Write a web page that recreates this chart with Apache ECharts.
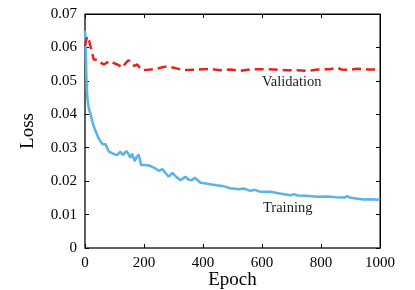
<!DOCTYPE html>
<html>
<head>
<meta charset="utf-8">
<script src="https://cdn.jsdelivr.net/npm/echarts@6/dist/echarts.min.js"></script>
<style>
  html, body { margin: 0; padding: 0; background: #fff; }
  #chart { width: 415px; height: 290px; }
</style>
</head>
<body>
<div id="chart"></div>
<script>
const trainEpochs = [0, 3, 5, 8, 12, 19, 27, 36, 45, 53, 60, 64, 70, 76, 81, 95, 109, 115, 120, 128, 134, 140, 147, 154, 160, 168, 175, 182, 190, 205, 222, 235, 250, 262, 272, 284, 296, 310, 324, 340, 352, 363, 372, 392, 410, 425, 445, 470, 493, 503, 520, 538, 561, 576, 595, 629, 660, 697, 708, 720, 750, 787, 820, 850, 880, 889, 900, 945, 970, 990, 1000];
const trainLoss = [0.065, 0.058, 0.050, 0.045, 0.042, 0.040, 0.037, 0.035, 0.033, 0.0318, 0.031, 0.0308, 0.031, 0.0298, 0.0288, 0.0282, 0.0278, 0.0282, 0.0288, 0.0278, 0.0283, 0.029, 0.0282, 0.027, 0.0282, 0.026, 0.0272, 0.028, 0.0248, 0.0248, 0.0245, 0.024, 0.0231, 0.0236, 0.0225, 0.0213, 0.0225, 0.0212, 0.0203, 0.0213, 0.0204, 0.0203, 0.021, 0.0195, 0.0193, 0.0191, 0.0188, 0.0185, 0.0178, 0.0178, 0.0176, 0.0178, 0.0171, 0.0174, 0.0168, 0.0168, 0.0163, 0.0158, 0.0161, 0.0157, 0.0156, 0.0153, 0.0154, 0.0152, 0.0151, 0.0155, 0.015, 0.0145, 0.0146, 0.0144, 0.0147];

const valEpochs = [0, 7, 14, 19, 25, 30, 41, 52, 64, 75, 86, 98, 109, 118, 126, 137, 148, 158, 168, 177, 185, 194, 210, 222, 240, 256, 279, 301, 320, 335, 360, 380, 400, 425, 440, 459, 493, 527, 560, 600, 640, 680, 720, 753, 790, 830, 855, 870, 900, 923, 960, 1000];
const valLoss = [0.0605, 0.0633, 0.062, 0.0619, 0.058, 0.0563, 0.0564, 0.0555, 0.0549, 0.0555, 0.056, 0.0553, 0.0549, 0.0545, 0.0539, 0.0552, 0.0562, 0.0548, 0.0545, 0.0549, 0.054, 0.0532, 0.0533, 0.0534, 0.0536, 0.0539, 0.0544, 0.0539, 0.0535, 0.0532, 0.0533, 0.0534, 0.0535, 0.0536, 0.0534, 0.0532, 0.0534, 0.053, 0.0534, 0.0535, 0.0534, 0.0532, 0.0532, 0.053, 0.0534, 0.0535, 0.0539, 0.0534, 0.0533, 0.0536, 0.0534, 0.0534];

const seriesNames = ["Training", "Validation"];

const chart = echarts.init(document.getElementById("chart"));
const font = "Liberation Serif";

const pairs = (xs, ys) => xs.map((x, i) => [x, ys[i]]);

// fresh object for each axis
const ticks = () => ({ show: true, inside: true, length: 4, lineStyle: { color: "#000", width: 1 } });

const option = {
  animation: false,
  grid: {
    left: 85, right: 35, top: 14, bottom: 42,
    outerBoundsMode: "none",
    show: true, borderColor: "#000", borderWidth: 1, backgroundColor: "transparent",
  },
  // index 0: top/right frame axes, index 1: labelled axes
  xAxis: [
    {
      type: "value",
      position: "top",
      min: 0,
      max: 1000,
      interval: 200,
      axisLine: { show: true, onZero: false, lineStyle: { color: "#000", width: 1 } },
      axisTick: ticks(),
      axisLabel: { show: false },
      splitLine: { show: false },
    },
    {
      type: "value",
      position: "bottom",
      min: 0,
      max: 1000,
      interval: 200,
      name: "Epoch",
      nameLocation: "middle",
      nameGap: 23,
      nameMoveOverlap: false,
      nameTextStyle: { fontFamily: font, fontSize: 19, color: "#000" },
      axisLine: { onZero: false, lineStyle: { color: "#555", width: 1.5 } },
      axisTick: ticks(),
      axisLabel: { fontFamily: font, fontSize: 15, color: "#000", margin: 8, formatter: (v) => String(v) },
      splitLine: { show: false },
    },
  ],
  yAxis: [
    {
      type: "value",
      position: "right",
      min: 0,
      max: 0.07,
      interval: 0.01,
      axisLine: { show: true, onZero: false, lineStyle: { color: "#000", width: 1 } },
      axisTick: ticks(),
      axisLabel: { show: false },
      splitLine: { show: false },
    },
    {
      type: "value",
      position: "left",
      min: 0,
      max: 0.07,
      interval: 0.01,
      name: "Loss",
      nameLocation: "middle",
      nameGap: 47,
      nameMoveOverlap: false,
      nameTextStyle: { fontFamily: font, fontSize: 19, color: "#000" },
      axisLine: { show: true, onZero: false, lineStyle: { color: "#555", width: 1.5 } },
      axisTick: ticks(),
      axisLabel: {
        fontFamily: font,
        fontSize: 15,
        color: "#000",
        margin: 8,
        formatter: (v) => (v === 0 ? "0" : v.toFixed(2)),
      },
      splitLine: { show: false },
    },
  ],
  series: [
    {
      name: seriesNames[0],
      type: "line",
      xAxisIndex: 1,
      yAxisIndex: 1,
      data: pairs(trainEpochs, trainLoss),
      showSymbol: false,
      lineStyle: { color: "#56b4e9", width: 2.5 },
      z: 3,
    },
    {
      name: seriesNames[1],
      type: "line",
      xAxisIndex: 0,
      yAxisIndex: 0,
      data: pairs(valEpochs, valLoss),
      showSymbol: false,
      lineStyle: { color: "#e8221b", width: 2.5, type: [9, 5] },
      z: 4,
    },
  ],
  graphic: [
    {
      type: "text",
      left: 262,
      top: 75,
      style: { text: seriesNames[1], font: "14.5px " + font, fill: "#222" },
    },
    {
      type: "text",
      left: 263,
      top: 201,
      style: { text: seriesNames[0], font: "14.5px " + font, fill: "#222" },
    },
  ],
};

chart.setOption(option);
</script>
</body>
</html>
